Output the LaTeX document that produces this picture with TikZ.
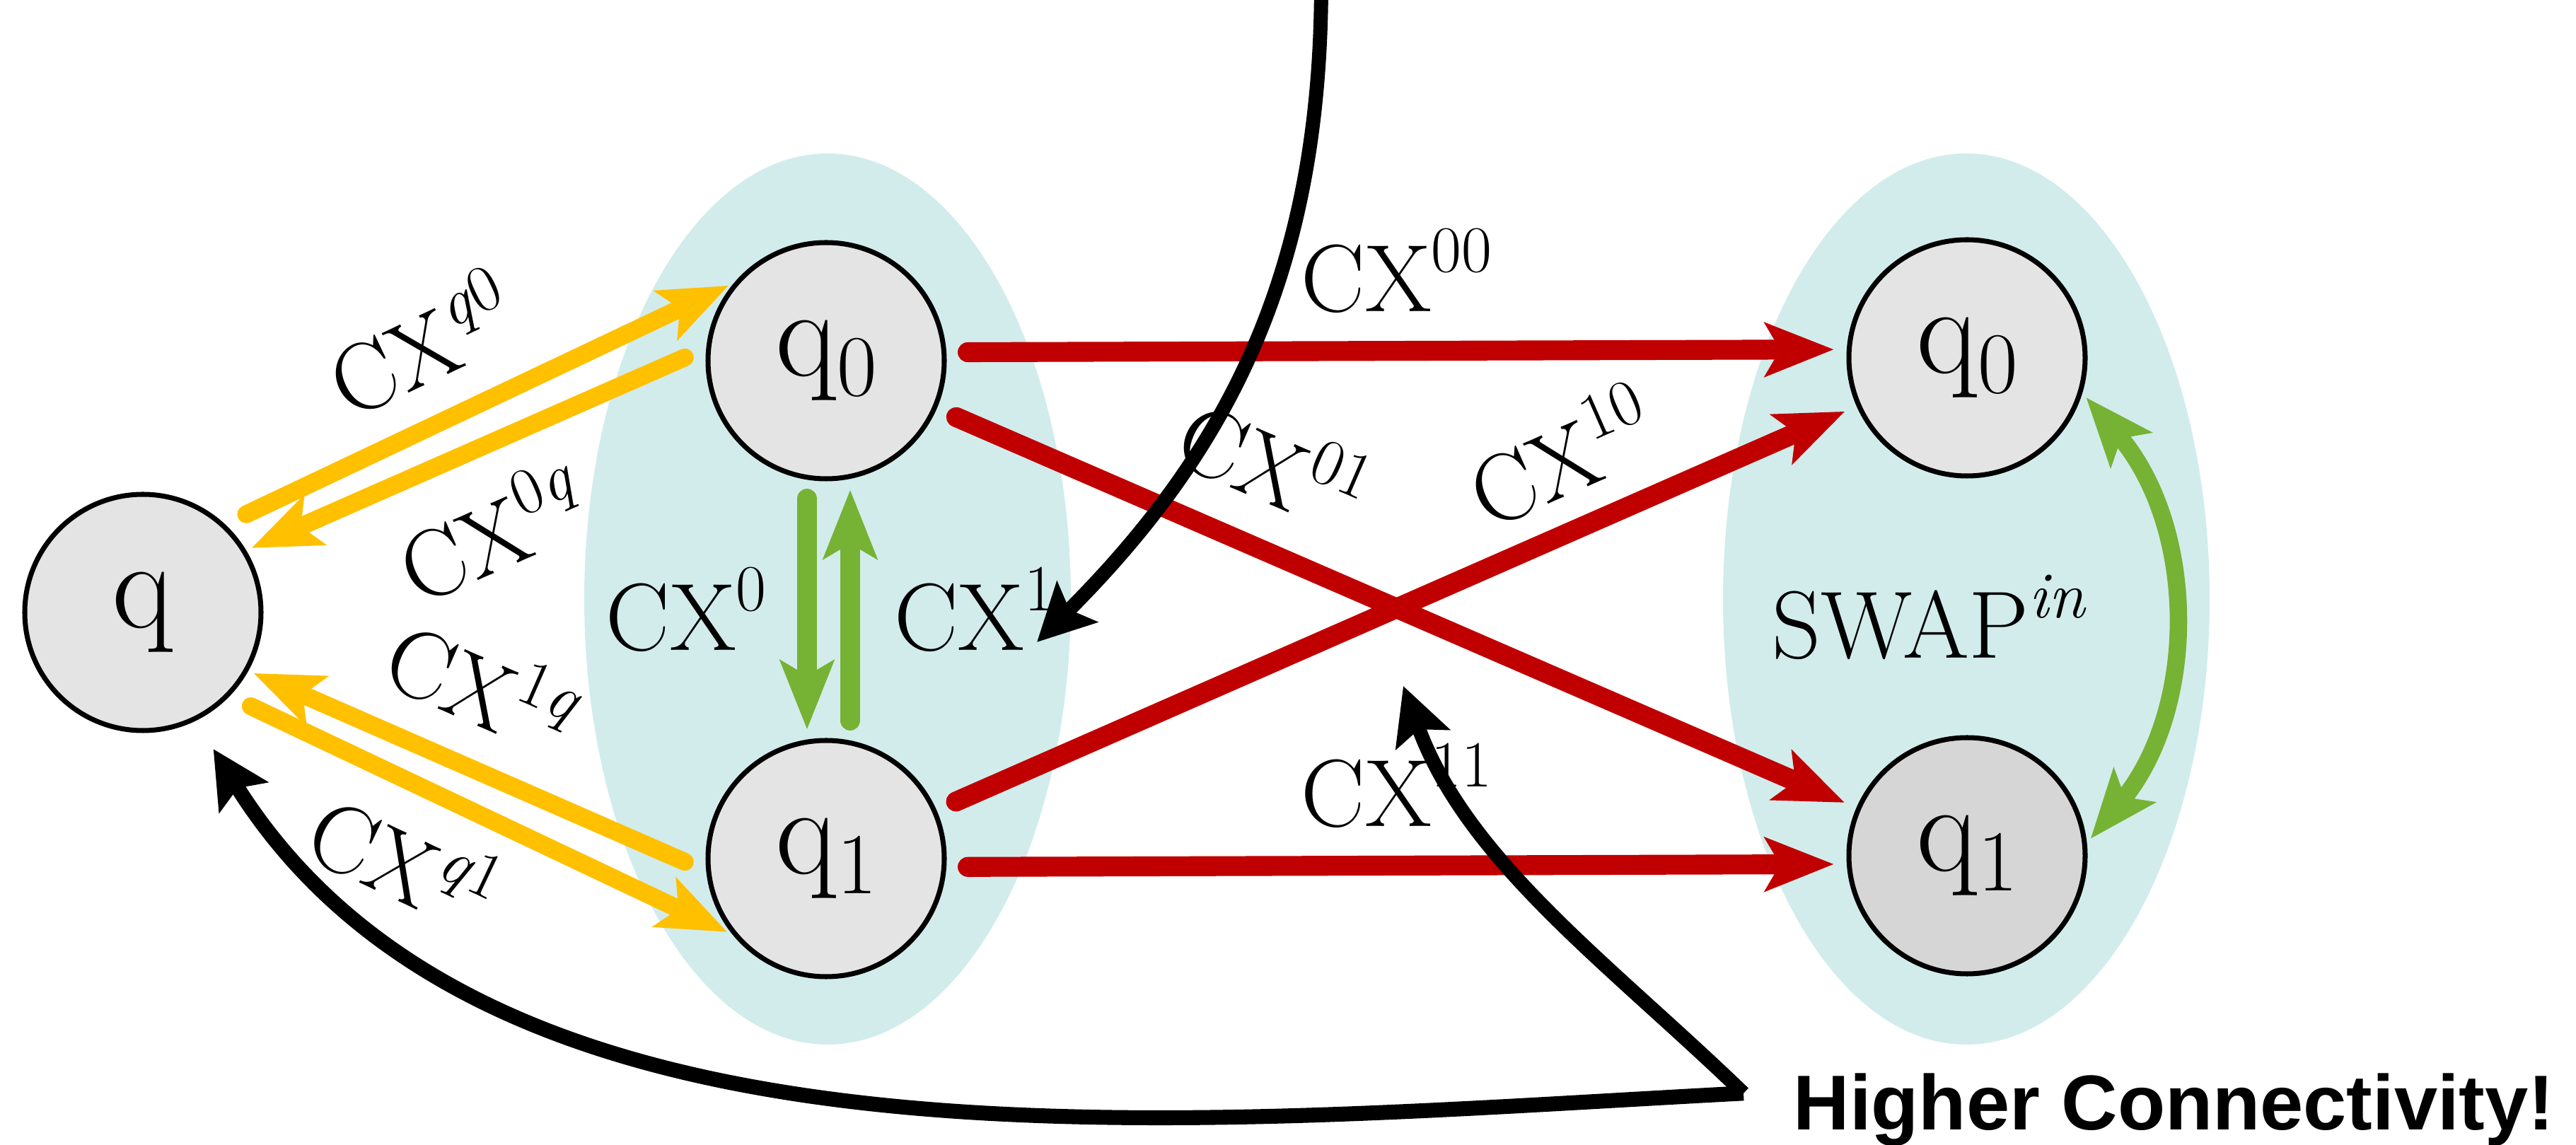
\documentclass[tikz,border=0pt]{standalone}
\usepackage{fontspec}
\newfontfamily\hcfont{Liberation Sans}
\usepackage{xcolor}
\usepackage{tikz}
\usetikzlibrary{arrows.meta}
\definecolor{clusterbg}{RGB}{210,236,236}
\definecolor{qfill}{RGB}{228,228,228}
\definecolor{qfilldark}{RGB}{214,214,214}
\definecolor{cxyellow}{RGB}{255,192,0}
\definecolor{cxred}{RGB}{192,0,0}
\definecolor{cxgreen}{RGB}{118,178,52}
\newcommand{\upidx}[1]{\raisebox{16pt}{\fontsize{26.5}{31}\selectfont #1}}
\newcommand{\dnidx}[1]{\raisebox{-8pt}{\fontsize{35}{40}\selectfont #1}}

\begin{document}
\begin{tikzpicture}[
  qubit/.style={circle, draw, line width=2pt, fill=qfill, minimum size=3.34cm, inner sep=0pt, font=\fontsize{51}{60}\selectfont},
  lbl/.style={inner sep=0pt, text=black, font=\fontsize{38.5}{46}\selectfont},
  headcx/.style={-{Stealth[length=0.97cm, width=0.75cm, inset=0.21cm]}},
  cxq/.style={headcx, cxyellow, line width=7.2pt, line cap=round, shorten <=0.33cm, shorten >=0.08cm},
  cxx/.style={headcx, cxred, line width=8pt, line cap=round, shorten <=0.3cm, shorten >=0.18cm},
  cxi/.style={headcx, cxgreen, line width=8.2pt, line cap=round, shorten <=0.25cm, shorten >=0.12cm},
  pointer/.style={-{Stealth[length=0.8cm, width=0.8cm, inset=0.15cm]}, line width=5.7pt},
]
\useasboundingbox (0,0) rectangle (36.42,16.19);
\fill[clusterbg] (11.70,7.72) ellipse [x radius=3.44cm, y radius=6.30cm];
\fill[clusterbg] (27.80,7.72) ellipse [x radius=3.44cm, y radius=6.30cm];

\node[qubit] (q)  at (2.02,7.53)  {q};
\node[qubit] (q0) at (11.68,11.09) {q\dnidx{0}};
\node[qubit] (q1) at (11.68,4.05)  {q\dnidx{1}};
\node[qubit] (r0) at (27.81,11.13) {q\dnidx{0}};
\node[qubit, fill=qfilldark] (r1) at (27.81,4.09) {q\dnidx{1}};

\draw[cxq] (q.47) -- (q0.140) node[lbl, pos=0.45, sloped, above=0.42cm] {CX\upidx{\textit{q}0}};
\draw[cxq] (q0.174) -- (q.31) node[lbl, pos=0.54, sloped, below=0.4cm] {CX\upidx{0\textit{q}}};
\draw[cxq] (q1.186) -- (q.-29) node[lbl, pos=0.56, sloped, above=0.44cm] {CX\upidx{1\textit{q}}};
\draw[cxq] (q.-44) -- (q1.-141) node[lbl, pos=0.41, sloped, below=0.3cm] {CX\upidx{\textit{q}1}};

\draw[cxi] ([xshift=-0.27cm]q0.south) -- ([xshift=-0.27cm]q1.north) node[lbl, midway, left=0.43cm] {CX\upidx{0}};
\draw[cxi] ([xshift=0.34cm]q1.north) -- ([xshift=0.34cm]q0.south) node[lbl, midway, right=0.48cm] {CX\upidx{1}};

\draw[cxx] (q0.4) -- (r0.176) node[lbl, midway, above=0.39cm] {CX\upidx{00}};
\draw[cxx] (q0) -- (r1) node[lbl, pos=0.33, sloped, above=0.47cm] {CX\upidx{01}};
\draw[cxx] (q1) -- (r0) node[lbl, pos=0.71, sloped, above=0.32cm] {CX\upidx{10}};
\draw[cxx] (q1.-4) -- (r1.-176) node[lbl, midway, above=0.39cm] {CX\upidx{11}};

\draw[{Stealth[length=0.97cm, width=0.75cm, inset=0.21cm]}-{Stealth[length=0.97cm, width=0.75cm, inset=0.21cm]}, cxgreen, line width=7pt, shorten <=0.08cm, shorten >=0.08cm]
  (r0.-17) to[bend left=40] node[lbl, left=1.05cm] {SWAP\upidx{\textit{in}}} (r1.6);

\node[anchor=base west, inner xsep=0.7cm, inner ysep=0pt, font=\hcfont\bfseries\fontsize{31.3}{37}\selectfont] (hc) at (24.65,0.21) {Higher Connectivity!};
\coordinate (topin) at (18.68,16.45);
\coordinate (cxtip) at (14.66,7.11);
\coordinate (xtip) at (19.84,6.49);

\draw[pointer] (topin) to[out=-90, in=45] (cxtip);
\draw[pointer, line width=6pt, shorten >=0.47cm] ([yshift=0.24cm]hc.west) to[out=183, in=-58, looseness=0.9] (q.-64);
\draw[pointer] ([yshift=0.24cm]hc.west) to[out=136, in=-70, looseness=0.9] (xtip);
\end{tikzpicture}
\end{document}
